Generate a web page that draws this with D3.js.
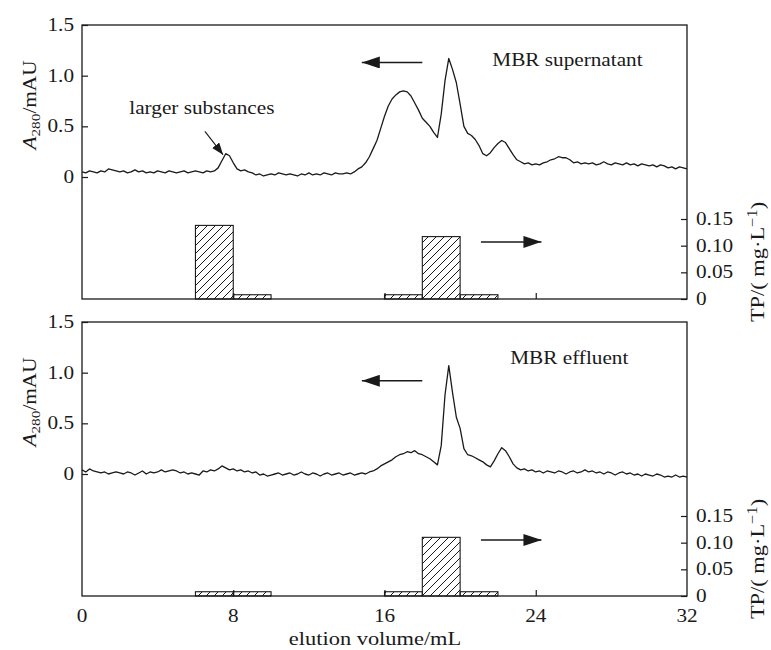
<!DOCTYPE html>
<html>
<head>
<meta charset="utf-8">
<script src="https://cdn.jsdelivr.net/npm/d3@7"></script>
<style>
  body { margin: 0; background: #fff; }
  text { font-family: "Liberation Serif", "Times New Roman", serif; fill: #1a1a1a; }
</style>
</head>
<body>
<svg id="chart" width="771" height="650"></svg>
<script>
// Detector readings every 0.2 mL from 0 to 32 mL (A280, mAU)
const elutionStep = 0.2;
const supernatantA280 = [
  0.05,0.04,0.06,0.05,0.04, 0.06,0.05,0.08,0.07,0.06, 0.05,0.06,0.04,0.05,0.07, 0.05,0.06,0.04,0.05,0.04,
  0.06,0.05,0.04,0.06,0.05, 0.04,0.05,0.06,0.04,0.05, 0.06,0.05,0.04,0.06,0.05, 0.06,0.09,0.16,0.23,0.21,
  0.14,0.08,0.06,0.07,0.05, 0.04,0.02,0.03,0.01,0.02, 0.03,0.02,0.04,0.03,0.02, 0.03,0.02,0.01,0.03,0.02,
  0.04,0.02,0.03,0.02,0.04, 0.03,0.02,0.04,0.03,0.03, 0.04,0.03,0.05,0.08,0.10, 0.14,0.20,0.28,0.36,0.48,
  0.60,0.70,0.77,0.81,0.84, 0.85,0.84,0.80,0.73,0.66, 0.58,0.54,0.50,0.44,0.39, 0.62,0.95,1.17,1.06,0.93,
  0.72,0.50,0.43,0.41,0.37, 0.31,0.23,0.21,0.24,0.29, 0.33,0.36,0.34,0.28,0.22, 0.17,0.15,0.13,0.14,0.12,
  0.13,0.12,0.14,0.15,0.17, 0.18,0.20,0.19,0.19,0.17, 0.14,0.15,0.13,0.14,0.13, 0.14,0.12,0.13,0.15,0.13,
  0.12,0.14,0.13,0.12,0.14, 0.12,0.13,0.11,0.13,0.12, 0.11,0.12,0.10,0.12,0.11, 0.09,0.10,0.08,0.10,0.09,
  0.08
];
const effluentA280 = [
  0.04,0.02,0.05,0.03,0.02, 0.01,0.02,0.00,0.01,0.02, 0.01,0.00,0.02,0.01,-0.01, 0.01,0.03,0.00,0.02,0.01,
  0.02,0.04,0.02,0.03,0.04, 0.03,0.01,0.02,0.00,0.01, 0.00,-0.01,0.03,0.02,0.04, 0.03,0.05,0.08,0.06,0.04,
  0.05,0.03,0.04,0.02,0.03, 0.01,0.02,-0.01,0.00,-0.02, -0.01,0.00,0.01,-0.01,0.00, 0.01,-0.01,0.00,0.02,0.00,
  -0.01,0.01,0.00,-0.02,0.00, 0.01,-0.01,0.00,0.01,-0.01, 0.00,0.01,-0.01,0.00,0.01, 0.00,0.02,0.03,0.05,0.08,
  0.10,0.12,0.14,0.17,0.19, 0.20,0.22,0.21,0.23,0.20, 0.19,0.17,0.15,0.12,0.09, 0.28,0.78,1.07,0.80,0.56,
  0.45,0.25,0.19,0.18,0.16, 0.14,0.12,0.09,0.07,0.13, 0.20,0.26,0.23,0.17,0.10, 0.06,0.04,0.05,0.03,0.04,
  0.02,0.03,0.01,0.03,0.02, 0.01,0.03,0.02,0.00,0.02, 0.03,0.01,0.02,0.04,0.02, 0.03,0.01,0.02,0.00,0.02,
  0.01,-0.01,0.01,0.02,0.00, 0.01,-0.01,0.00,-0.02,0.00, -0.01,-0.02,0.00,-0.01,-0.03, -0.02,-0.03,-0.01,-0.03,-0.02,
  -0.03
];

// Total phosphorus in collected fractions (mg/L)
const tpBins = [[6, 8], [8, 10], [16, 18], [18, 20], [20, 22]];
const supernatantTP = [0.138, 0.008, 0.008, 0.117, 0.008];
const effluentTP = [0.008, 0.008, 0.008, 0.110, 0.008];

// Axis ticks
const xTicks = [0, 8, 16, 24, 32];
const xTickLabels = ["0", "8", "16", "24", "32"];
const aTicks = [0, 0.5, 1.0, 1.5];
const aTickLabels = ["0", "0.5", "1.0", "1.5"];
const tpTicks = [0, 0.05, 0.10, 0.15];
const tpTickLabels = ["0", "0.05", "0.10", "0.15"];

const panelTitles = ["MBR supernatant", "MBR effluent"];

// ---- layout ----
const svg = d3.select("#chart");
const SX = 1.18;           // horizontal stretch of the lettering
const ink = "#1a1a1a";
const panelTops = [25, 322];
const panelH = 274;

const x = d3.scaleLinear().domain([0, 32]).range([82, 687]);
const yA = d3.scaleLinear().domain([0, 1.5]).range([152, 0]);
const yTP = d3.scaleLinear().domain([0, 0.15]).range([panelH, 194]);

// per-panel annotation anchors (data units)
const titlePos = [{t: 21.7, a: 1.10}, {t: 22.65, a: 1.09}];
const leftArrow = [{t0: 18.0, t1: 14.8, a: 1.13}, {t0: 18.0, t1: 14.8, a: 0.92}];
const rightArrow = [{t0: 21.1, t1: 24.3, tp: 0.107}, {t0: 21.1, t1: 24.3, tp: 0.105}];

const defs = svg.append("defs");
const hatch = defs.append("pattern")
  .attr("id", "hatch").attr("patternUnits", "userSpaceOnUse")
  .attr("width", 8).attr("height", 8);
hatch.append("path")
  .attr("d", "M0,8 L8,0 M-2,2 L2,-2 M6,10 L10,6")
  .attr("stroke", ink).attr("stroke-width", 1);

defs.append("marker")
  .attr("id", "headBig").attr("markerUnits", "userSpaceOnUse")
  .attr("viewBox", "0 -6 18 12").attr("refX", 18).attr("refY", 0)
  .attr("markerWidth", 18).attr("markerHeight", 12).attr("orient", "auto")
  .append("path").attr("d", "M0,-6 L18,0 L0,6 Z").attr("fill", ink);
defs.append("marker")
  .attr("id", "headSmall").attr("markerUnits", "userSpaceOnUse")
  .attr("viewBox", "0 -4.5 12 9").attr("refX", 12).attr("refY", 0)
  .attr("markerWidth", 12).attr("markerHeight", 9).attr("orient", "auto")
  .append("path").attr("d", "M0,-4.5 L12,0 L0,4.5 Z").attr("fill", ink);

function label(g, px, py, str, anchor, size, rotate) {
  const rot = rotate ? ` rotate(${rotate})` : "";
  return g.append("text")
    .attr("transform", `translate(${px},${py})${rot} scale(${SX},1)`)
    .attr("text-anchor", anchor || "start")
    .attr("font-size", size || 18)
    .text(str);
}

const line = d3.line()
  .x((d, i) => x(i * elutionStep))
  .y(d => yA(d));

function drawPanel(k, a280, tp) {
  const g = svg.append("g").attr("transform", `translate(0,${panelTops[k]})`);

  // fraction bars
  g.selectAll("rect.bar").data(tp).join("rect")
    .attr("class", "bar")
    .attr("x", (d, i) => x(tpBins[i][0]))
    .attr("width", (d, i) => x(tpBins[i][1]) - x(tpBins[i][0]))
    .attr("y", d => yTP(d))
    .attr("height", d => yTP(0) - yTP(d))
    .attr("fill", "url(#hatch)")
    .attr("stroke", ink).attr("stroke-width", 1.1);

  // chromatogram trace
  g.append("path").datum(a280)
    .attr("d", line)
    .attr("fill", "none").attr("stroke", ink)
    .attr("stroke-width", 1.3).attr("stroke-linejoin", "round");

  // frame
  g.append("rect")
    .attr("x", x(0)).attr("y", 0)
    .attr("width", x(32) - x(0)).attr("height", panelH)
    .attr("fill", "none").attr("stroke", ink).attr("stroke-width", 1.3);

  // inward ticks
  const leftAx = g.append("g").attr("transform", `translate(${x(0)},0)`)
    .call(d3.axisLeft(yA).tickValues(aTicks).tickSize(-6).tickSizeOuter(0).tickFormat(""));
  const rightAx = g.append("g").attr("transform", `translate(${x(32)},0)`)
    .call(d3.axisRight(yTP).tickValues(tpTicks).tickSize(-6).tickSizeOuter(0).tickFormat(""));
  const botAx = g.append("g").attr("transform", `translate(0,${panelH})`)
    .call(d3.axisBottom(x).tickValues(xTicks.slice(1, -1)).tickSize(-6).tickSizeOuter(0).tickFormat(""));
  [leftAx, rightAx, botAx].forEach(ax => {
    ax.select(".domain").remove();
    ax.selectAll("line").attr("stroke", ink).attr("stroke-width", 1.2);
  });

  // tick labels
  aTicks.forEach((v, i) => label(g, x(0) - 8, yA(v) + 6, aTickLabels[i], "end", 18));
  tpTicks.forEach((v, i) => label(g, x(32) + 9, yTP(v) + 6, tpTickLabels[i], "start", 18));

  // axis titles
  const at = g.append("text")
    .attr("transform", `translate(36,80) rotate(-90) scale(${SX},1)`)
    .attr("text-anchor", "middle").attr("font-size", 18);
  at.append("tspan").attr("font-style", "italic").text("A");
  at.append("tspan").attr("font-size", 13).attr("dy", 4).text("280");
  at.append("tspan").attr("dy", -4).text("/mAU");

  const tt = g.append("text")
    .attr("transform", `translate(764,237) rotate(-90) scale(${SX},1)`)
    .attr("text-anchor", "middle").attr("font-size", 19);
  tt.append("tspan").text("TP/( mg\u00B7L");
  tt.append("tspan").attr("font-size", 14).attr("dy", -7).text("\u22121");
  tt.append("tspan").attr("dy", 7).text(")");

  // panel title
  label(g, x(titlePos[k].t), yA(titlePos[k].a), panelTitles[k], "start", 18);

  // direction arrows: trace reads on the left axis, bars on the right
  const la = leftArrow[k];
  g.append("line")
    .attr("x1", x(la.t0)).attr("x2", x(la.t1))
    .attr("y1", yA(la.a)).attr("y2", yA(la.a))
    .attr("stroke", ink).attr("stroke-width", 1.5)
    .attr("marker-end", "url(#headBig)");
  const ra = rightArrow[k];
  g.append("line")
    .attr("x1", x(ra.t0)).attr("x2", x(ra.t1))
    .attr("y1", yTP(ra.tp)).attr("y2", yTP(ra.tp))
    .attr("stroke", ink).attr("stroke-width", 1.5)
    .attr("marker-end", "url(#headBig)");

  return g;
}

const gTop = drawPanel(0, supernatantA280, supernatantTP);
const gBot = drawPanel(1, effluentA280, effluentTP);

// annotation of the early peak
label(gTop, x(2.5), yA(0.62), "larger substances", "start", 18);
gTop.append("line")
  .attr("x1", x(6.5)).attr("y1", yA(0.45))
  .attr("x2", x(7.46)).attr("y2", yA(0.22))
  .attr("stroke", ink).attr("stroke-width", 1.1)
  .attr("marker-end", "url(#headSmall)");

// x axis labels under the lower panel
const baseY = panelTops[1] + panelH;
xTicks.forEach((v, i) => label(svg, x(v), baseY + 26, xTickLabels[i], "middle", 18));
label(svg, x(15.5), baseY + 49, "elution volume/mL", "middle", 19);
</script>
</body>
</html>
